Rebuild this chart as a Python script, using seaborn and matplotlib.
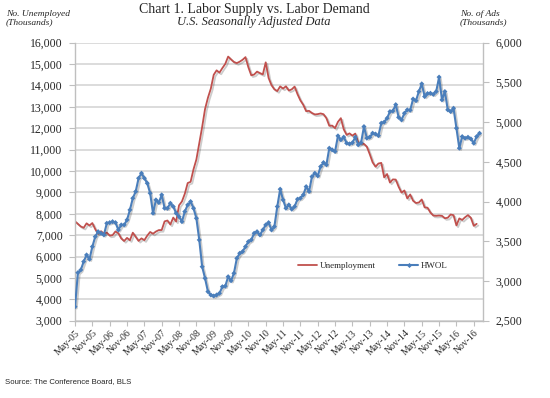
import matplotlib
matplotlib.use("Agg")
import matplotlib.pyplot as plt
import matplotlib.patheffects as pe
from matplotlib.lines import Line2D
from matplotlib.ticker import FuncFormatter
import seaborn as sns
import pandas as pd
import numpy as np

# ---------------- data ----------------
unemployment = [
    7647, 7524, 7406, 7345, 7553, 7453, 7566, 7279,
    7064, 7184, 7072, 7120, 6980, 7001, 7175, 7091, 6847, 6727, 6872, 6762,
    7116, 6927, 6731, 6850, 6766, 6979, 7149, 7067, 7170, 7237, 7240, 7645,
    7685, 7497, 7822, 7637, 8395, 8575, 8937, 9438, 9494, 10074, 10538, 11286,
    12058, 12898, 13426, 13853, 14499, 14707, 14601, 14814, 15009, 15352, 15219, 15098,
    15046, 15113, 15202, 15325, 14849, 14474, 14512, 14648, 14579, 14516, 15081, 14348,
    14013, 13820, 13737, 13957, 13855, 13962, 13763, 13818, 13948, 13594, 13302, 13093,
    12797, 12813, 12713, 12646, 12660, 12692, 12656, 12471, 12115, 12124, 12005, 12298,
    12471, 11950, 11689, 11760, 11654, 11751, 11335, 11279, 11270, 11136, 10787, 10404,
    10202, 10349, 10380, 9702, 9859, 9460, 9608, 9599, 9262, 8990, 9090, 8717,
    8903, 8610, 8504, 8526, 8667, 8299, 8285, 8057, 7919, 7906, 7919, 7904,
    7791, 7815, 7966, 7935, 7454, 7783, 7713, 7838, 7939, 7809, 7436, 7529,
]
hwol = [
    2676, 3105, 3139, 3244, 3328, 3274, 3432, 3558, 3621, 3601,
    3580, 3727, 3735, 3747, 3735, 3643, 3706, 3706, 3769, 3895,
    4042, 4126, 4294, 4357, 4294, 4231, 4105, 3853, 4021, 3987,
    4084, 3916, 3916, 3979, 3937, 3853, 3810, 3747, 3874, 3958,
    4000, 3916, 3790, 3517, 3180, 3034, 2866, 2824, 2811, 2824,
    2845, 2928, 2935, 3054, 3003, 3097, 3286, 3349, 3370, 3432,
    3495, 3517, 3601, 3621, 3580, 3643, 3706, 3735, 3643, 3685,
    3937, 4156, 4021, 3916, 3958, 3904, 3937, 4030, 4042, 4084,
    4188, 4126, 4314, 4357, 4323, 4440, 4491, 4462, 4672, 4651,
    4630, 4827, 4777, 4811, 4735, 4726, 4740, 4811, 4714, 4740,
    4944, 4798, 4811, 4861, 4850, 4830, 4987, 5000, 5049, 5133,
    5140, 5220, 5060, 5028, 5112, 5155, 5150, 5291, 5270, 5385,
    5482, 5322, 5360, 5364, 5350, 5385, 5567, 5280, 5385, 5155,
    5133, 5175, 4924, 4672, 4818, 4797, 4810, 4789, 4735, 4818, 4860,
]
months = pd.date_range("2005-05-01", periods=len(hwol), freq="MS")
tick_labels = ["May-05", "Nov-05", "May-06", "Nov-06", "May-07", "Nov-07",
               "May-08", "Nov-08", "May-09", "Nov-09", "May-10", "Nov-10",
               "May-11", "Nov-11", "May-12", "Nov-12", "May-13", "Nov-13",
               "May-14", "Nov-14", "May-15", "Nov-15", "May-16", "Nov-16"]
left_ticks = list(range(3000, 16001, 1000))
right_ticks = list(range(2500, 6001, 500))

# ---------------- style ----------------
sns.set_theme(style="white")
plt.rcParams["font.family"] = ["Liberation Serif", "DejaVu Serif"]

RED = "#C0504D"
BLUE = "#4A7EBB"
GRID = "#D9D9D9"
SPINE = "#BFBFBF"
TEXT = "#262626"

df = pd.DataFrame({
    "pos": np.arange(len(hwol)),
    "month": months,
    "HWOL": hwol,
    "Unemployment": unemployment + [np.nan] * (len(hwol) - len(unemployment)),
})

fig = plt.figure(figsize=(5.5, 3.98), dpi=100)
ax = fig.add_axes([0.1364, 0.1942, 0.7418, 0.6985])
ax2 = ax.twinx()

shadow = [pe.SimpleLineShadow(offset=(1.2, -1.2), shadow_color="k", alpha=0.22), pe.Normal()]

sns.lineplot(data=df, x="pos", y="Unemployment", ax=ax, color=RED, linewidth=1.3,
             legend=False, path_effects=shadow)
sns.lineplot(data=df, x="pos", y="HWOL", ax=ax2, color=BLUE, linewidth=1.5,
             marker="D", markersize=2.6, markeredgewidth=0, legend=False,
             path_effects=shadow)

# axes limits / ticks
ax.set_xlim(0, 141.2)
ax.set_ylim(3000, 16000)
ax2.set_ylim(2500, 6000)
ax.set_yticks(left_ticks)
ax2.set_yticks(right_ticks)
fmt = FuncFormatter(lambda v, p: f"{int(v):,}")
ax.yaxis.set_major_formatter(fmt)
ax2.yaxis.set_major_formatter(fmt)

tick_pos = [i for i, m in enumerate(months) if m.month in (5, 11)][:len(tick_labels)]
ax.set_xticks(tick_pos)
ax.set_xticklabels(tick_labels, rotation=45, ha="right", rotation_mode="anchor",
                   fontsize=7, color=TEXT)
ax.set_xlabel("")
ax.set_ylabel("")
ax2.set_ylabel("")

ax.grid(axis="y", color=GRID, linewidth=1.3)
ax.grid(axis="x", visible=False)
ax2.grid(False)
ax.set_axisbelow(True)

for a in (ax, ax2):
    for s in ("top",):
        a.spines[s].set_visible(False)
    for s in ("left", "right", "bottom"):
        a.spines[s].set_color(SPINE)
        a.spines[s].set_linewidth(1.0)
ax.spines["right"].set_visible(False)
ax2.spines["left"].set_visible(False)
ax2.spines["bottom"].set_visible(False)

ax.tick_params(axis="y", direction="out", length=4, width=0.8, color=SPINE,
               labelsize=8.5, labelcolor=TEXT, pad=5, left=True)
ax.tick_params(axis="x", direction="out", length=3.5, width=0.8, color=SPINE,
               pad=2, bottom=True)
ax2.tick_params(axis="y", direction="out", length=4, width=0.8, color=SPINE,
                labelsize=8.5, labelcolor=TEXT, pad=5, right=True)

# legend
handles = [
    Line2D([], [], color=RED, linewidth=1.3),
    Line2D([], [], color=BLUE, linewidth=1.5, marker="D", markersize=2.6, markeredgewidth=0),
]
ax2.legend(handles, ["Unemployment", "HWOL"], loc="center",
           bbox_to_anchor=(0.73, 0.197), ncol=2, frameon=False, fontsize=6.5,
           handlelength=2.2, handletextpad=0.3, columnspacing=2.5)

# titles and annotations
fig.text(0.462, 0.975, "Chart 1. Labor Supply vs. Labor Demand", ha="center", va="center",
         fontsize=10, color=TEXT)
fig.text(0.462, 0.944, "U.S. Seasonally Adjusted Data", ha="center", va="center",
         fontsize=9, style="italic", color=TEXT)
fig.text(0.011, 0.955, "No. Unemployed\n(Thousands)", ha="left", va="center",
         fontsize=6.8, style="italic", color=TEXT, linespacing=1.1)
fig.text(0.836, 0.955, "No. of Ads\n(Thousands)", ha="left", va="center",
         fontsize=6.8, style="italic", color=TEXT, linespacing=1.1)
fig.text(0.009, 0.041, "Source: The Conference Board, BLS", ha="left", va="center",
         fontsize=5.6, color=TEXT, family=["Liberation Sans", "DejaVu Sans"])

fig.savefig("out.png", dpi=100)
